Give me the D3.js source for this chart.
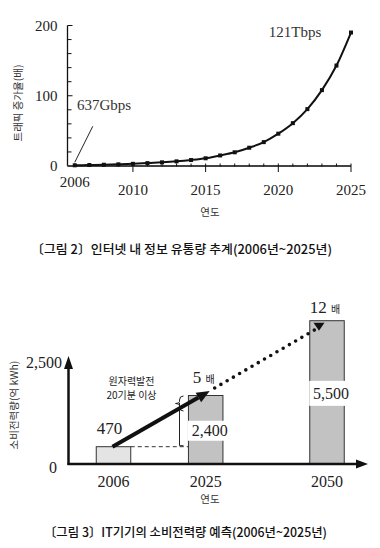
<!DOCTYPE html>
<html><head><meta charset="utf-8">
<script src="https://cdn.jsdelivr.net/npm/d3@7"></script>
<style>html,body{margin:0;padding:0;background:#fff;}svg{display:block;}</style>
</head><body>
<script>
// ---- Figure 2 data: traffic growth ratio (2006 = 1) ----
const trafficYears  = [2006,2007,2008,2009,2010,2011,2012,2013,2014,2015,2016,2017,2018,2019,2020,2021,2022,2023,2024,2025];
const trafficValues = [1,1.4,1.8,2.4,3.1,4.1,5.2,6.6,8.5,11,15,19.5,26,34,46,61,81,108,143,190];
const trafficYTicks = [0,100,200];
const trafficXTicks = [2006,2010,2015,2020,2025];
const trafficStartLabel = "637Gbps";
const trafficEndLabel = "121Tbps";
const caption1 = "〔그림 2〕인터넷 내 정보 유통량 추계(2006년~2025년)";
const yTitle1 = "트래픽 증가율(배)";
const xTitle = "연도";

// ---- Figure 3 data: IT power consumption (억 kWh) ----
const powerYears  = [2006,2025,2050];
const powerValues = [470,2400,5500];
const powerLabels = ["470","2,400","5,500"];
const powerYTicks = [0,2500];
const powerYTickLabels = ["0","2,500"];
const multiplierNums = ["5","12"];
const multiplierUnit = "배";
const nuclearNote = ["원자력발전","20기분 이상"];
const caption2 = "〔그림 3〕IT기기의 소비전력량 예측(2006년~2025년)";
const yTitle2 = "소비전력량(억 kWh)";

const SERIF = "'Liberation Serif','DejaVu Serif',serif";
const SANS = "'Noto Sans CJK KR','Noto Sans',sans-serif";

const svg = d3.select("body").append("svg").attr("width",380).attr("height",548);
svg.append("rect").attr("width",380).attr("height",548).attr("fill","#fff");

function caption(g, txt, x, y, len){
  g.append("text").attr("x",x).attr("y",y)
    .attr("font-family",SANS).attr("font-size",12.5).attr("font-weight",500).attr("fill","#111")
    .attr("textLength",len).attr("lengthAdjust","spacingAndGlyphs").text(txt);
}

// ================= Figure 2 =================
const g1 = svg.append("g");
const x1 = d3.scaleLinear().domain([2005.5,2025]).range([67.5,351]);
const y1 = d3.scaleLinear().domain([0,200]).range([166,25.5]);

// y axis
g1.append("line").attr("x1",x1(2005.5)).attr("x2",x1(2005.5)).attr("y1",y1(0)).attr("y2",y1(200))
  .attr("stroke","#111").attr("stroke-width",1.3);
g1.selectAll(".yt").data(d3.range(0,201,20)).join("line")
  .attr("x1",x1(2005.5)).attr("x2",d=> x1(2005.5)+ (d%100===0?5:4))
  .attr("y1",d=>y1(d)).attr("y2",d=>y1(d)).attr("stroke","#111").attr("stroke-width",1);
g1.selectAll(".yl").data(trafficYTicks).join("text")
  .attr("x",57.5).attr("y",d=>y1(d)+5).attr("text-anchor","end")
  .attr("font-family",SERIF).attr("font-size",15).attr("fill","#222").text(d=>d);

// x axis
g1.append("line").attr("x1",x1(2005.5)).attr("x2",x1(2025)).attr("y1",y1(0)).attr("y2",y1(0))
  .attr("stroke","#777").attr("stroke-width",2.2);
g1.append("line").attr("x1",x1(2005.5)).attr("x2",x1(2025)).attr("y1",y1(0)).attr("y2",y1(0))
  .attr("stroke","#111").attr("stroke-width",1);
g1.selectAll(".xt").data(trafficYears).join("line")
  .attr("x1",d=>x1(d)).attr("x2",d=>x1(d))
  .attr("y1",d=> y1(0)-2.5)
  .attr("y2",d=> (trafficXTicks.includes(d) && d!==2006) ? y1(0)+6 : y1(0)+0.5)
  .attr("stroke","#111").attr("stroke-width",1);
g1.selectAll(".xl").data(trafficXTicks).join("text")
  .attr("x",d=>x1(d)).attr("y",d=> d===2006 ? 187 : 195).attr("text-anchor","middle")
  .attr("font-family",SERIF).attr("font-size",15).attr("fill","#222").text(d=>d);

// series line
const pts = trafficYears.map((yr,i)=>[yr,trafficValues[i]]);
g1.append("path").datum(pts)
  .attr("d", d3.line().x(d=>x1(d[0])).y(d=>y1(d[1])).curve(d3.curveMonotoneX))
  .attr("fill","none").attr("stroke","#111").attr("stroke-width",2);
g1.selectAll(".mk").data(pts).join("rect")
  .attr("x",d=>x1(d[0])-2).attr("y",d=>y1(d[1])-2).attr("width",4).attr("height",4).attr("fill","#111");

// annotations
g1.append("line").attr("x1",x1(2006)).attr("y1",y1(trafficValues[0])-3)
  .attr("x2",x1(2006)+18).attr("y2",y1(trafficValues[0])-39)
  .attr("stroke","#222").attr("stroke-width",1);
g1.append("text").attr("x",77).attr("y",110).attr("font-family",SERIF).attr("font-size",15)
  .attr("fill","#333").text(trafficStartLabel);
g1.append("text").attr("x",x1(2025)-56).attr("y",37).attr("text-anchor","middle").attr("font-family",SERIF).attr("font-size",15)
  .attr("fill","#333").text(trafficEndLabel);

// titles
g1.append("text").attr("transform","translate(22,103) rotate(-90)").attr("text-anchor","middle")
  .attr("font-family",SANS).attr("font-size",10.5).attr("fill","#333").text(yTitle1);
g1.append("text").attr("x",210).attr("y",216).attr("text-anchor","middle")
  .attr("font-family",SANS).attr("font-size",10.5).attr("fill","#333").text(xTitle);
caption(g1, caption1, 31, 254, 301);

// ================= Figure 3 =================
const g2 = svg.append("g");
const x2 = d3.scaleLinear().domain([2006,2050]).range([113.5,327]);
// schematic (not-to-scale) value axis, piecewise linear
const y2 = d3.scaleLinear().domain([0,470,2400,2500,5500]).range([464,446.7,395.5,363,320.7]);
const barW = 34.5;
const axX = 68.5, axEnd = 368;

// bars
powerValues.forEach((v,i)=>{
  const cx = x2(powerYears[i]);
  g2.append("rect").attr("x",cx-barW/2).attr("y",y2(v)).attr("width",barW).attr("height",y2(0)-y2(v))
    .attr("fill", i===0 ? "#e4e4e4" : "#c2c2c2").attr("stroke","#333").attr("stroke-width",1);
});

// value labels
powerValues.forEach((v,i)=>{
  const cx = x2(powerYears[i]);
  if(i===0){
    g2.append("text").attr("x",cx-4).attr("y",y2(v)-13).attr("text-anchor","middle")
      .attr("font-family",SERIF).attr("font-size",17).attr("fill","#222").text(powerLabels[i]);
  } else {
    const cy = (y2(v)+y2(0))/2 + 1;
    const h = i===1 ? 20 : 25;
    g2.append("rect").attr("x",cx-barW/2-0.5).attr("y",cy-h/2).attr("width",barW+6).attr("height",h).attr("fill","#fff");
    g2.append("text").attr("x",cx+4).attr("y",cy+5.5).attr("text-anchor","middle")
      .attr("font-family",SERIF).attr("font-size",16).attr("fill","#222").text(powerLabels[i]);
  }
});

// axes with arrowheads
g2.append("line").attr("x1",axX).attr("x2",axX).attr("y1",y2(0)+1).attr("y2",y2(2500)+4)
  .attr("stroke","#111").attr("stroke-width",2.5);
g2.append("path").attr("d",`M${axX-4.5},${y2(2500)+6}L${axX},${y2(2500)-7}L${axX+4.5},${y2(2500)+6}Z`).attr("fill","#111");
g2.append("line").attr("x1",axX-1).attr("x2",axEnd-8).attr("y1",y2(0)).attr("y2",y2(0))
  .attr("stroke","#111").attr("stroke-width",2.5);
g2.append("path").attr("d",`M${axEnd-12},${y2(0)-4.5}L${axEnd},${y2(0)}L${axEnd-12},${y2(0)+4.5}Z`).attr("fill","#111");
g2.selectAll(".pyl").data(powerYTicks).join("text")
  .attr("x",(d,i)=> i===0 ? 57 : 62).attr("y",d=> y2(d)+ (d===0?9:5)).attr("text-anchor","end")
  .attr("font-family",SERIF).attr("font-size",16).attr("fill","#222").text((d,i)=>powerYTickLabels[i]);

// x labels
g2.selectAll(".pxl").data(powerYears).join("text")
  .attr("x",d=>x2(d)).attr("y",487).attr("text-anchor","middle")
  .attr("font-family",SERIF).attr("font-size",16).attr("fill","#222").text(d=>d);

// dashed reference at 2006 level
g2.append("line").attr("x1",x2(2006)+barW/2).attr("x2",x2(2025)-barW/2)
  .attr("y1",y2(470)).attr("y2",y2(470)).attr("stroke","#333").attr("stroke-width",1).attr("stroke-dasharray","4,3");

// bracket
const bx = 179.5;
g2.append("line").attr("x1",bx).attr("x2",bx).attr("y1",y2(470)-1).attr("y2",403)
  .attr("stroke","#222").attr("stroke-width",1);
g2.append("line").attr("x1",bx).attr("x2",bx+4).attr("y1",y2(470)-1).attr("y2",y2(470)-1)
  .attr("stroke","#222").attr("stroke-width",1);
g2.append("path").attr("d",`M${bx+4},396 Q${bx},396 ${bx},400 L${bx},401.5 Q${bx},403.5 ${bx-4},403.5 Q${bx},403.5 ${bx},405.5 L${bx},407 Q${bx},411 ${bx+4},411`)
  .attr("fill","none").attr("stroke","#222").attr("stroke-width",1);
g2.selectAll(".note").data(nuclearNote).join("text")
  .attr("x",131.5).attr("y",(d,i)=>384.5+i*14.5).attr("text-anchor","middle")
  .attr("font-family",SANS).attr("font-size",10).attr("fill","#222").text(d=>d);

// solid arrow 2006 -> 2025
const ax0 = x2(2006)-1, ay0 = y2(470);
const ax1 = x2(2025)+4, ay1 = y2(2400)-4.5;
const ang = Math.atan2(ay1-ay0, ax1-ax0);
const headL = 13, headW = 5.5;
const bxh = ax1 - headL*Math.cos(ang), byh = ay1 - headL*Math.sin(ang);
g2.append("line").attr("x1",ax0).attr("y1",ay0).attr("x2",bxh).attr("y2",byh)
  .attr("stroke","#111").attr("stroke-width",4);
g2.append("path").attr("d",`M${ax1},${ay1}L${bxh - headW*Math.sin(ang)},${byh + headW*Math.cos(ang)}L${bxh + headW*Math.sin(ang)},${byh - headW*Math.cos(ang)}Z`).attr("fill","#111");

// dotted arrow 2025 -> 2050
const dx1 = x2(2050)-8, dy1 = y2(5500)+8;
g2.append("line").attr("x1",ax1+5).attr("y1",ay1-3).attr("x2",dx1-4).attr("y2",dy1+1)
  .attr("stroke","#111").attr("stroke-width",3.6).attr("stroke-linecap","round").attr("stroke-dasharray","0,7.2");
g2.append("path").attr("d",`M${dx1-5.5},${y2(5500)+2}L${dx1+5.5},${y2(5500)+2}L${dx1},${y2(5500)+10}Z`).attr("fill","#111");

// multiplier labels
[1,2].forEach((idx,k)=>{
  const t = g2.append("text").attr("x",x2(powerYears[idx])-2).attr("y",y2(powerValues[idx]) - (k===0?12.5:8))
    .attr("text-anchor","middle").attr("fill","#222");
  t.append("tspan").attr("font-family",SERIF).attr("font-size",17).text(multiplierNums[k]+" ");
  t.append("tspan").attr("font-family",SANS).attr("font-size",10).text(multiplierUnit);
});

// titles
g2.append("text").attr("transform","translate(18,405) rotate(-90)").attr("text-anchor","middle")
  .attr("font-family",SANS).attr("font-size",10.5).attr("fill","#333").text(yTitle2);
g2.append("text").attr("x",210).attr("y",503).attr("text-anchor","middle")
  .attr("font-family",SANS).attr("font-size",10.5).attr("fill","#333").text(xTitle);
caption(g2, caption2, 44, 537, 283);
</script>
</body></html>
